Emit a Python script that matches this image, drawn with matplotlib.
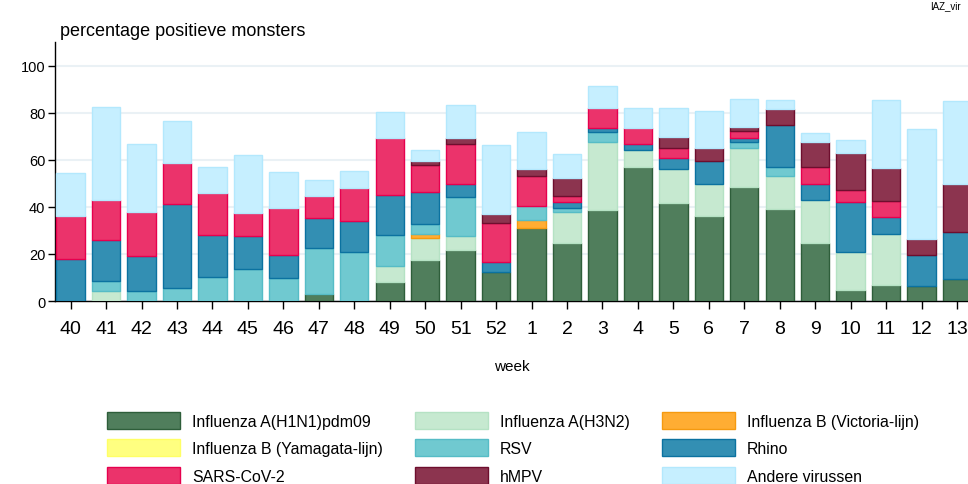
import numpy as np
import matplotlib
matplotlib.use("Agg")
import matplotlib.pyplot as plt
from matplotlib.patches import Patch

plt.rcParams['font.family'] = ['Liberation Sans', 'DejaVu Sans']

weeks = ["40", "41", "42", "43", "44", "45", "46", "47", "48", "49", "50", "51", "52",
         "1", "2", "3", "4", "5", "6", "7", "8", "9", "10", "11", "12", "13"]

h1n1 =    [0, 0, 0, 0, 0, 0, 0, 3.0, 0, 8.1, 17.4, 21.7, 12.2, 31.1, 24.7, 38.6, 56.9, 41.7, 36.2, 48.4, 38.9, 24.7, 4.7, 6.8, 6.4, 9.5]
h3n2 =    [0, 4.1, 0, 0, 0, 0, 0, 0, 0, 6.8, 9.3, 5.8, 0, 0, 12.9, 28.9, 7.1, 14.2, 13.6, 16.6, 14.4, 18.0, 16.2, 21.6, 0, 0]
b_vic =   [0, 0, 0, 0, 0, 0, 0, 0, 0, 0, 1.8, 0, 0, 3.1, 0, 0, 0, 0, 0, 0, 0, 0, 0, 0, 0, 0]
b_yam =   [0] * 26
rsv =     [0, 4.4, 4.4, 5.7, 10.4, 13.5, 9.8, 19.3, 20.6, 13.2, 4.4, 16.6, 0, 6.2, 2.0, 4.1, 0, 0, 0, 2.4, 3.7, 0, 0, 0, 0, 0]
rhino =   [18.0, 17.3, 14.5, 35.3, 17.8, 13.9, 9.9, 12.9, 13.4, 17.1, 13.5, 5.5, 4.3, 0, 2.4, 1.9, 2.8, 5.0, 9.5, 2.0, 17.8, 7.1, 21.1, 7.2, 13.3, 20.0]
sars =    [18.2, 17.3, 19.0, 17.6, 17.8, 10.0, 19.9, 9.5, 14.1, 24.2, 11.2, 16.9, 16.7, 12.5, 2.8, 8.6, 6.8, 4.0, 0, 2.7, 0, 7.1, 5.0, 7.0, 0, 0]
hmpv =    [0, 0, 0, 0, 0, 0, 0, 0, 0, 0, 2.0, 2.7, 3.8, 3.3, 7.5, 0, 0, 4.8, 5.7, 1.8, 6.9, 10.8, 15.8, 14.0, 6.5, 20.1]
andere =  [18.1, 39.5, 28.6, 18.0, 11.0, 24.4, 15.3, 6.8, 7.2, 11.0, 4.7, 14.2, 29.4, 15.7, 10.3, 9.1, 8.4, 12.4, 15.7, 11.9, 3.8, 3.8, 5.7, 28.9, 47.0, 35.5]

series = [
    ("Influenza A(H1N1)pdm09", h1n1, "#507e5c", "#2e5e3a"),
    ("Influenza A(H3N2)", h3n2, "#c6e9d0", "#b5e2c4"),
    ("Influenza B (Victoria-lijn)", b_vic, "#ffad33", "#f59a10"),
    ("Influenza B (Yamagata-lijn)", b_yam, "#ffff80", "#ffff66"),
    ("RSV", rsv, "#70c9d0", "#56bcc6"),
    ("Rhino", rhino, "#338fb3", "#0b72a0"),
    ("SARS-CoV-2", sars, "#eb336b", "#e6004e"),
    ("hMPV", hmpv, "#8c344f", "#6e0e2e"),
    ("Andere virussen", andere, "#c6efff", "#b3e8fd"),
]

fig = plt.figure(figsize=(9.68, 4.85), dpi=100)
ax = fig.add_axes([55 / 968, 1 - 302 / 485, 1 - 55 / 968, (302 - 43) / 485])

x = np.arange(len(weeks))
bottom = np.zeros(len(weeks))
for name, vals, fc, ec in series:
    v = np.array(vals, dtype=float)
    lw = np.where(v > 0, 1.0, 0.0)
    ax.bar(x, v, width=0.8, bottom=bottom, color=fc, edgecolor=ec,
           linewidth=lw, zorder=3)
    bottom += v

ax.set_xlim(-0.44, 25.31)
ax.set_ylim(0, 110)
ax.set_yticks([0, 20, 40, 60, 80, 100])
ax.yaxis.grid(True, color="#eaf1f5", linewidth=1.5, zorder=0)
ax.set_axisbelow(True)
ax.set_xticks(x)
ax.set_xticklabels(weeks, fontsize=14)
ax.tick_params(axis='y', labelsize=10.5, length=5, width=1, pad=2)
ax.tick_params(axis='x', length=5.5, width=1, pad=8)
for s in ["top", "right"]:
    ax.spines[s].set_visible(False)
ax.spines["left"].set_linewidth(1)
ax.spines["bottom"].set_linewidth(1)

ax.set_xlabel("week", fontsize=11, labelpad=16)

fig.text(60 / 968, 1 - 31.5 / 485, "percentage positieve monsters", fontsize=13,
         ha="left", va="center")
fig.text(930 / 968, 1 - 6 / 485, "IAZ_vir", fontsize=7, ha="left", va="center")

handles = {name: Patch(facecolor=fc, edgecolor=ec, linewidth=1.0, label=name)
           for name, vals, fc, ec in series}
order = ["Influenza A(H1N1)pdm09", "Influenza B (Yamagata-lijn)", "SARS-CoV-2",
         "Influenza A(H3N2)", "RSV", "hMPV",
         "Influenza B (Victoria-lijn)", "Rhino", "Andere virussen"]
fs = 11.4
fpx = fs * 100 / 72
fig.legend([handles[n] for n in order], order, ncol=3, loc="upper left",
           bbox_to_anchor=(107 / 968, 1 - 413 / 485), frameon=False,
           fontsize=fs, handlelength=73 / fpx, handleheight=20 / fpx,
           handletextpad=12 / fpx, columnspacing=32 / fpx,
           labelspacing=10.5 / fpx, borderpad=0, borderaxespad=0)

fig.savefig("out.png", dpi=100)
